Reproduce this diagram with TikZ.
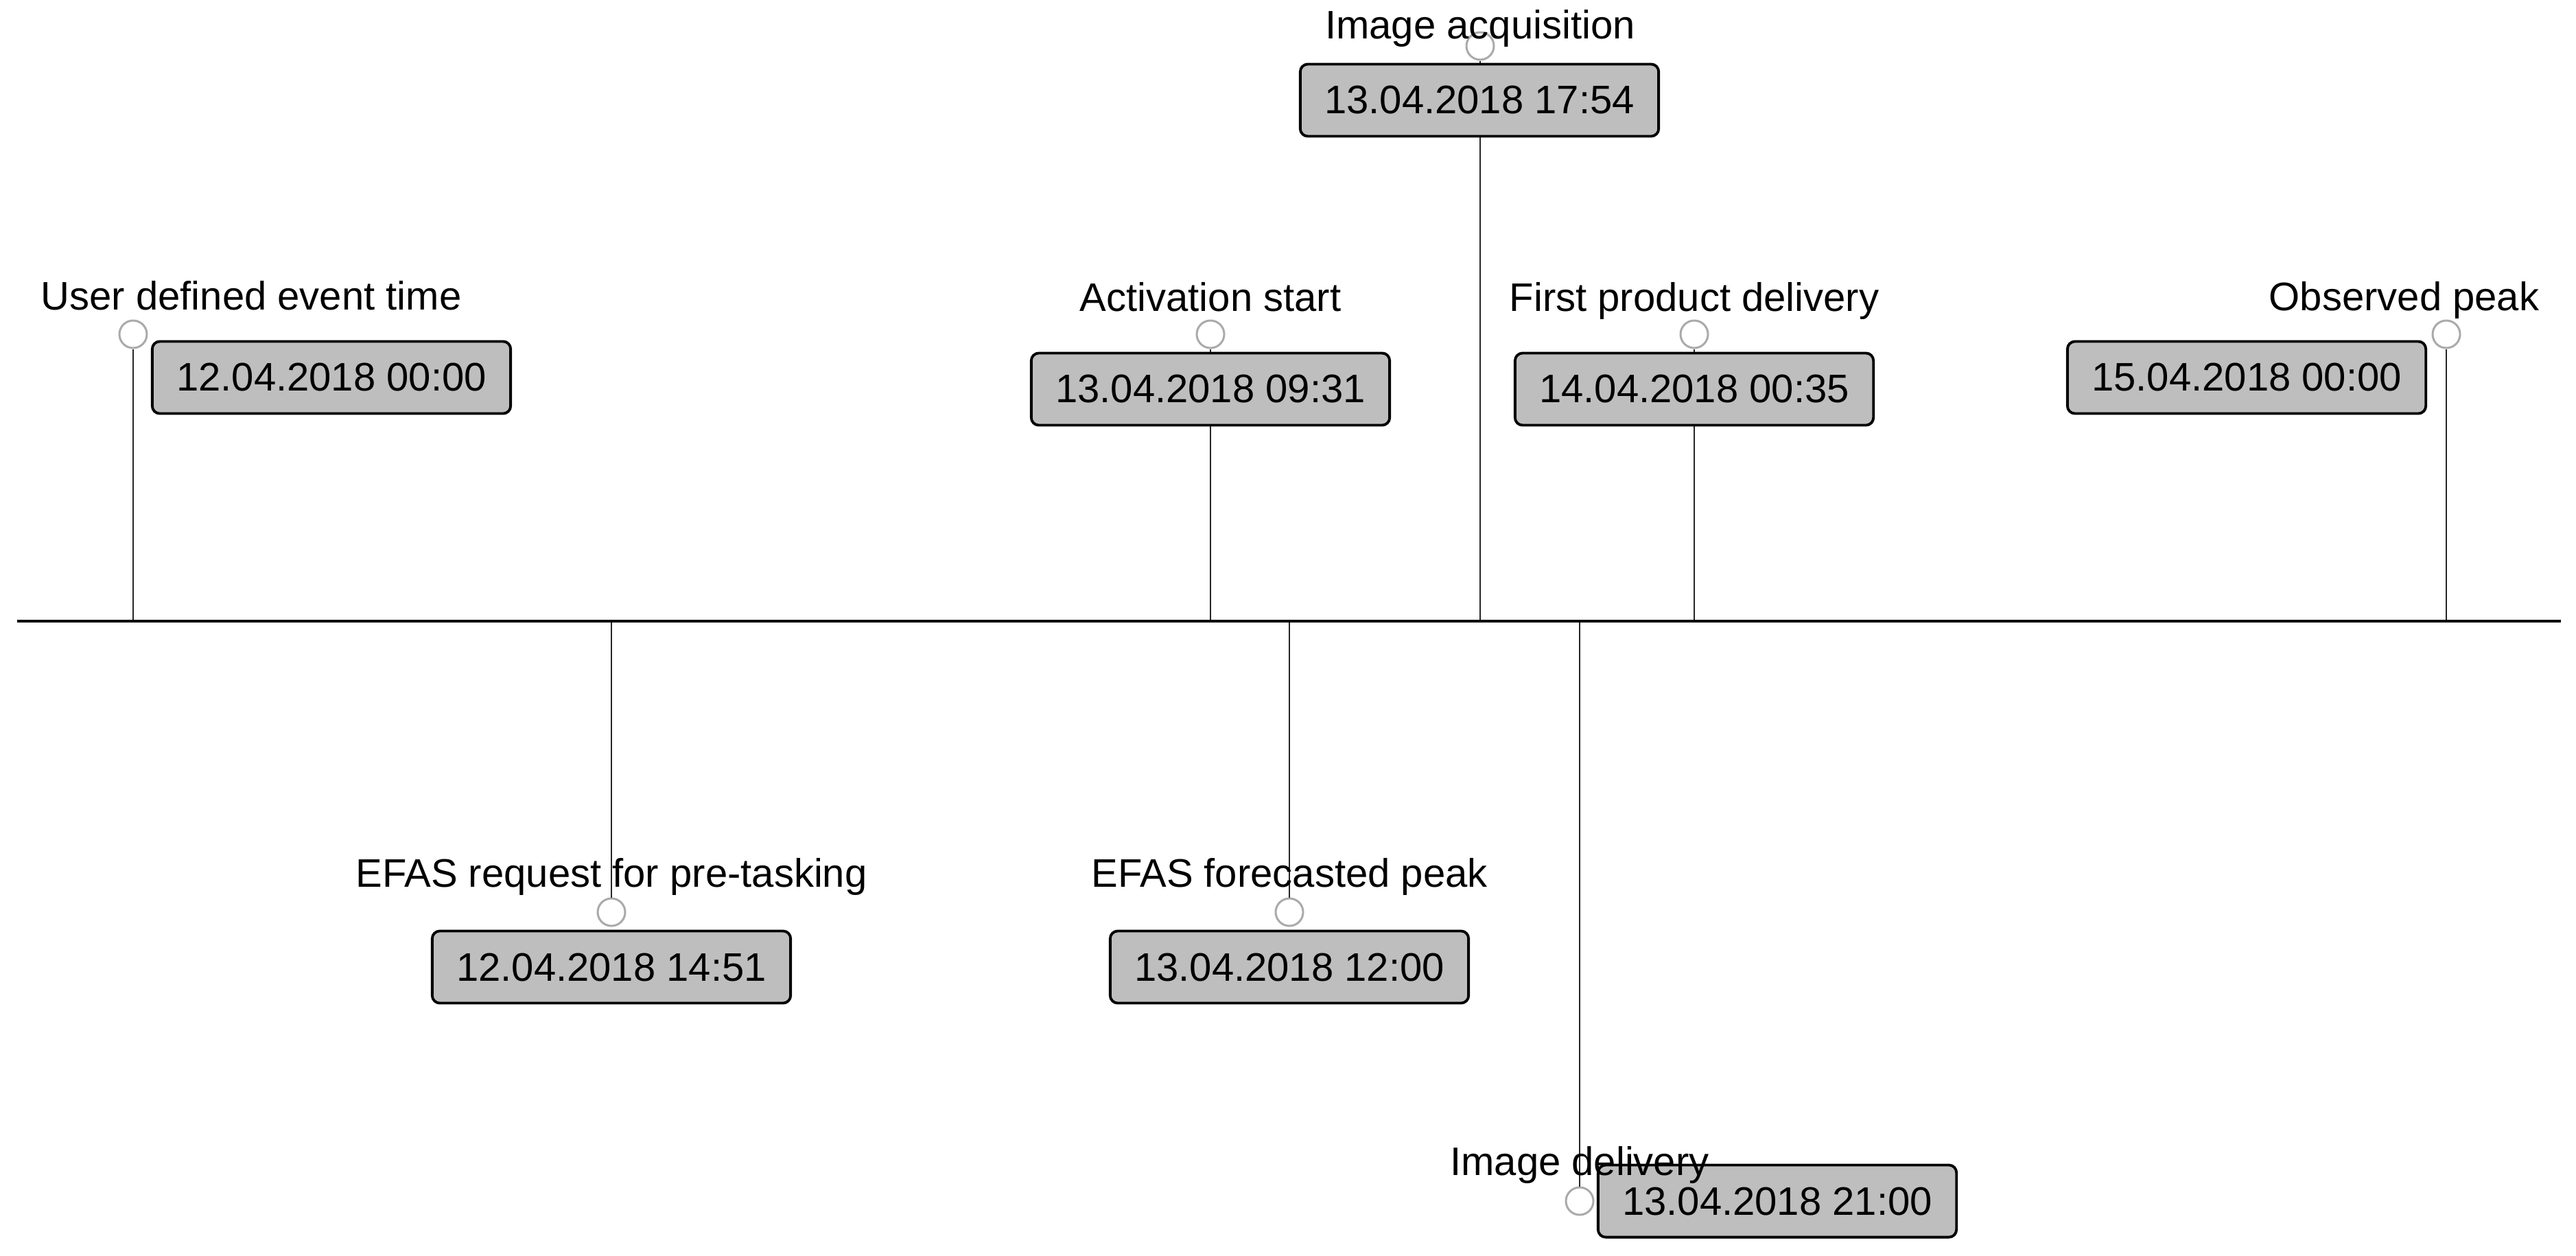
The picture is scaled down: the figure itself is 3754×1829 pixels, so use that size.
\documentclass[tikz,border=0pt]{standalone}
\usepackage{fontspec}
\setmainfont{Liberation Sans}
\usepackage{tikz}
\definecolor{boxgray}{RGB}{190,190,190}
\definecolor{pingray}{RGB}{170,170,170}

\begin{document}
\begin{tikzpicture}[x=0.01cm, y=-0.01cm,
    every node/.style={font=\fontsize{16.5}{18}\selectfont},
    datebox/.style={draw=black, line width=1.1pt, fill=boxgray, rounded corners=0.11cm,
      minimum width=5.22cm, minimum height=1.05cm, inner sep=0pt},
    pinhead/.style={circle, draw=pingray, line width=0.85pt, fill=white,
      minimum size=0.4cm, inner sep=0pt},
    stem/.style={black!85, line width=0.55pt},
    axisline/.style={black, line width=1pt}]
      \useasboundingbox (0,0) rectangle (3754,1829);

      \coordinate (axl) at (25,905);
      \coordinate (axr) at (3732,905);

      \coordinate (userax) at (194,905);
      \coordinate (actax) at (1764,905);
      \coordinate (acqax) at (2157,905);
      \coordinate (firstax) at (2469,905);
      \coordinate (obsax) at (3565,905);
      \coordinate (reqax) at (891,905);
      \coordinate (fcax) at (1879,905);
      \coordinate (delax) at (2302,905);

      \node[pinhead] (userpt) at (194,487) {};
      \node[pinhead] (actpt) at (1764,487) {};
      \node[pinhead] (acqpt) at (2157,67) {};
      \node[pinhead] (firstpt) at (2469,487) {};
      \node[pinhead] (obspt) at (3565,487) {};
      \node[pinhead] (reqpt) at (891,1329) {};
      \node[pinhead] (fcpt) at (1879,1329) {};
      \node[pinhead] (delpt) at (2302,1750) {};

      \draw[stem] (userax) -- (userpt);
      \draw[stem] (actax) -- (actpt);
      \draw[stem] (acqax) -- (acqpt);
      \draw[stem] (firstax) -- (firstpt);
      \draw[stem] (obsax) -- (obspt);
      \draw[stem] (reqax) -- (reqpt);
      \draw[stem] (fcax) -- (fcpt);
      \draw[stem] (delax) -- (delpt);
      \draw[axisline] (axl) -- (axr);

      \node[datebox] (userdate) at (483,550) {12.04.2018 00:00};
      \node[datebox] (actdate) at (1764,567) {13.04.2018 09:31};
      \node[datebox] (acqdate) at (2156,146) {13.04.2018 17:54};
      \node[datebox] (firstdate) at (2469,567) {14.04.2018 00:35};
      \node[datebox] (obsdate) at (3274,550) {15.04.2018 00:00};
      \node[datebox] (reqdate) at (891,1409) {12.04.2018 14:51};
      \node[datebox] (fcdate) at (1879,1409) {13.04.2018 12:00};
      \node[datebox] (deldate) at (2590,1750) {13.04.2018 21:00};

      \node[anchor=base west, inner sep=0pt] (userlab) at (59,451) {User defined event time};
      \node[anchor=base, inner sep=0pt] (actlab) at (1764,453) {Activation start};
      \node[anchor=base, inner sep=0pt] (acqlab) at (2157,56) {Image acquisition};
      \node[anchor=base, inner sep=0pt] (firstlab) at (2469,453) {First product delivery};
      \node[anchor=base east, inner sep=0pt] (obslab) at (3701,452) {Observed peak};
      \node[anchor=base, inner sep=0pt] (reqlab) at (891,1292) {EFAS request for pre-tasking};
      \node[anchor=base, inner sep=0pt] (fclab) at (1879,1292) {EFAS forecasted peak};
      \node[anchor=base, inner sep=0pt] (dellab) at (2302,1712) {Image delivery};
\end{tikzpicture}
\end{document}
